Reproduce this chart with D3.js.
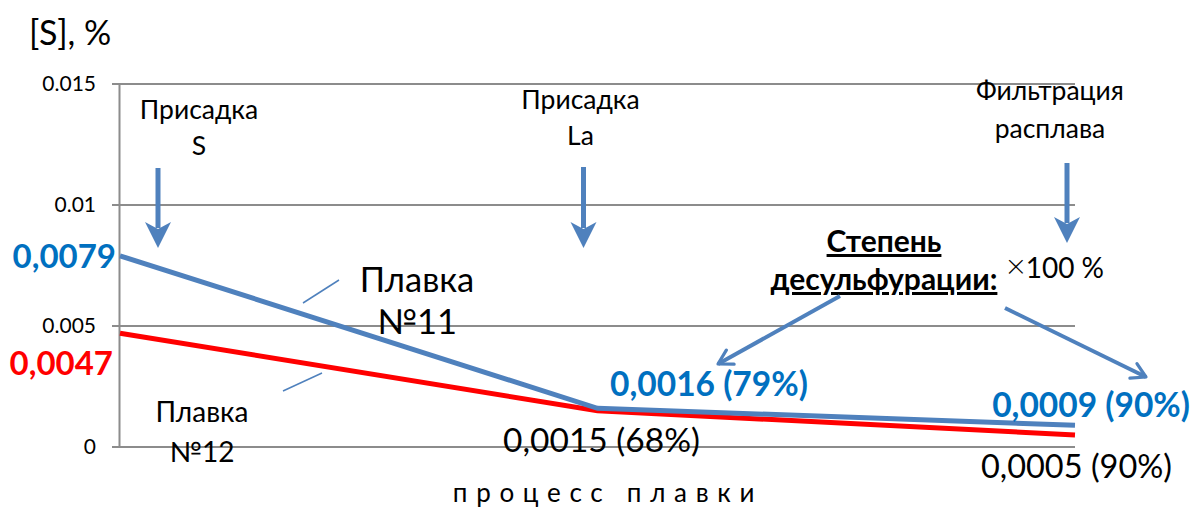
<!DOCTYPE html>
<html>
<head>
<meta charset="utf-8">
<script src="https://cdn.jsdelivr.net/npm/d3@7"></script>
<style>
  html, body { margin: 0; padding: 0; background: #fff; }
  svg { display: block; font-family: Lato, "Open Sans", sans-serif; }
</style>
</head>
<body>
<svg id="chart" width="1194" height="507"></svg>
<script>
// Stages of the melt (x categories) and sulfur content per heat
const stages = ["Присадка S", "Присадка La", "Фильтрация расплава"];
const stageLines = [["Присадка", "S"], ["Присадка", "La"], ["Фильтрация", "расплава"]];
const heat11 = [0.0079, 0.0016, 0.0009];
const heat12 = [0.0047, 0.0015, 0.0005];
const heat11Labels = ["0,0079", "0,0016 (79%)", "0,0009 (90%)"];
const heat12Labels = ["0,0047", "0,0015 (68%)", "0,0005 (90%)"];
const yTicks = [0, 0.005, 0.01, 0.015];
const yTickLabels = ["0", "0.005", "0.01", "0.015"];

const BLUE = "#4F81BD";
const LABEL_BLUE = "#0070C0";
const RED = "#FF0000";
const GRID = "#8C8C8C";

const svg = d3.select("#chart");
const plotL = 120, plotR = 1075, plotT = 84, plotB = 447;

const x = d3.scalePoint().domain(stages).range([plotL, plotR]).padding(0);
const y = d3.scaleLinear().domain([0, 0.015]).range([plotB, plotT]);

// Arrow markers
const defs = svg.append("defs");
defs.append("marker")
  .attr("id", "chev").attr("viewBox", "0 0 10 10")
  .attr("refX", 8).attr("refY", 5)
  .attr("markerWidth", 5).attr("markerHeight", 5)
  .attr("markerUnits", "strokeWidth")
  .attr("orient", "auto")
  .append("path").attr("d", "M1,1 L8,5 L1,9")
  .attr("fill", "none").attr("stroke", BLUE).attr("stroke-width", 1.6)
  .attr("stroke-linecap", "round").attr("stroke-linejoin", "round");

// Gridlines
svg.append("g").selectAll("line").data(yTicks).join("line")
  .attr("x1", plotL - 8).attr("x2", plotR)
  .attr("y1", d => y(d)).attr("y2", d => y(d))
  .attr("stroke", GRID).attr("stroke-width", 2);

// Y axis
const yAxis = d3.axisLeft(y).tickValues(yTicks)
  .tickFormat((d, i) => yTickLabels[i]).tickSize(0).tickPadding(23);
const ya = svg.append("g").attr("transform", `translate(${plotL - 1},0)`).call(yAxis);
ya.select(".domain").attr("stroke", GRID).attr("stroke-width", 2);
ya.selectAll("text").attr("font-size", 21).attr("fill", "#000")
  .attr("font-family", "Lato, 'Open Sans', sans-serif");

// Axis title
svg.append("text").attr("x", 29).attr("y", 45)
  .attr("font-size", 34).text("[S], %");

// X axis caption
svg.append("text").attr("x", 608).attr("y", 502)
  .attr("text-anchor", "middle").attr("font-size", 26)
  .attr("letter-spacing", 8.7).text("процесс плавки");

// Series lines
const line = d3.line().x((d, i) => x(stages[i])).y(d => y(d));
svg.append("path").datum(heat12).attr("d", line)
  .attr("fill", "none").attr("stroke", RED).attr("stroke-width", 5);
svg.append("path").datum(heat11).attr("d", line)
  .attr("fill", "none").attr("stroke", BLUE).attr("stroke-width", 5);

// Stage captions and vertical arrows
const capY = [[110, 146], [100, 136], [91, 129]];
const capDx = [79, -17, -25];
const arrowDx = [38, -14, -8];
const arrowTop = [168, 167, 163];
const arrowTip = [248, 248, 243];
stages.forEach((s, i) => {
  const cx = x(s) + capDx[i];
  stageLines[i].forEach((t, j) => {
    svg.append("text").attr("x", cx).attr("y", capY[i][j] + 9)
      .attr("text-anchor", "middle").attr("font-size", 26.5).text(t);
  });
  const ax = x(s) + arrowDx[i];
  const tip = arrowTip[i];
  svg.append("line").attr("x1", ax).attr("x2", ax)
    .attr("y1", arrowTop[i]).attr("y2", tip - 20)
    .attr("stroke", BLUE).attr("stroke-width", 5);
  svg.append("path")
    .attr("d", `M${ax - 13},${tip - 26} L${ax},${tip - 19} L${ax + 13},${tip - 26} L${ax},${tip} Z`)
    .attr("fill", BLUE);
});

// Value labels
function valLabel(txt, xx, yy, anchor, color, bold, size) {
  svg.append("text").attr("x", xx).attr("y", yy)
    .attr("text-anchor", anchor).attr("font-size", size)
    .attr("font-weight", bold ? "bold" : "normal")
    .attr("fill", color).text(txt);
}
valLabel(heat11Labels[0], x(stages[0]) - 4, y(heat11[0]) + 12, "end", LABEL_BLUE, true, 33);
valLabel(heat12Labels[0], x(stages[0]) - 7, y(heat12[0]) + 42, "end", RED, true, 33);
valLabel(heat11Labels[1], x(stages[1]) + 12.5, y(heat11[1]) - 12, "start", LABEL_BLUE, true, 33.5);
valLabel(heat12Labels[1], x(stages[1]) - 94.5, y(heat12[1]) + 41, "start", "#000", false, 33.5);
valLabel(heat11Labels[2], x(stages[2]) + 115, y(heat11[2]) - 8, "end", LABEL_BLUE, true, 33.5);
valLabel(heat12Labels[2], x(stages[2]) + 97, y(heat12[2]) + 43, "end", "#000", false, 32.5);

// Series names with leader lines
function seriesName(lines, cx, y0, dy, size) {
  lines.forEach((t, j) => {
    svg.append("text").attr("x", cx).attr("y", y0 + j * dy)
      .attr("text-anchor", "middle").attr("font-size", size).text(t);
  });
}
seriesName(["Плавка", "№11"], 417, 292, 42, 34.5);
seriesName(["Плавка", "№12"], 202, 422, 40, 28);
svg.append("line").attr("x1", 303).attr("y1", 303).attr("x2", 339).attr("y2", 280)
  .attr("stroke", BLUE).attr("stroke-width", 1.5);
svg.append("line").attr("x1", 283).attr("y1", 391).attr("x2", 322).attr("y2", 373)
  .attr("stroke", BLUE).attr("stroke-width", 1.5);

// Desulfurization note
const note = svg.append("g").attr("font-size", 30).attr("font-weight", "bold")
  .attr("text-decoration", "underline");
note.append("text").attr("x", 884).attr("y", 252).attr("text-anchor", "middle").text("Степень");
note.append("text").attr("x", 884).attr("y", 290).attr("text-anchor", "middle").text("десульфурации:");
const mult = svg.append("text").attr("x", 1006).attr("y", 278).attr("font-size", 28);
mult.append("tspan").attr("font-size", 34).attr("font-weight", 300).text("×");
mult.append("tspan").text("100 %");

svg.append("line").attr("x1", 840).attr("y1", 296).attr("x2", 718).attr("y2", 364)
  .attr("stroke", BLUE).attr("stroke-width", 4).attr("marker-end", "url(#chev)");
svg.append("line").attr("x1", 1005).attr("y1", 308).attr("x2", 1146).attr("y2", 377)
  .attr("stroke", BLUE).attr("stroke-width", 4).attr("marker-end", "url(#chev)");
</script>
</body>
</html>
